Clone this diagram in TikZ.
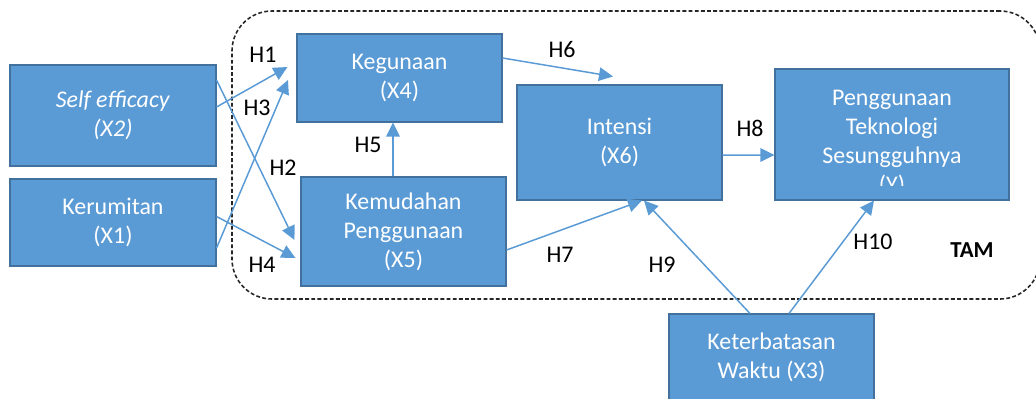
\documentclass[tikz,border=0pt]{standalone}
\usepackage{fontspec}
\setmainfont{Carlito}
\usepackage{xcolor}
\usetikzlibrary{arrows.meta, calc}

\definecolor{boxblue}{HTML}{5B9BD5}
\definecolor{boxedge}{HTML}{41719C}

\begin{document}
\begin{tikzpicture}[>={Triangle[length=2.8mm, width=2.7mm]},
  every node/.style={font=\fontsize{13.6}{16.5}\selectfont},
  var/.style={draw=boxedge, line width=0.6pt, fill=boxblue, text=white, align=center, minimum width=4.1cm},
  hyp/.style={->, draw=boxblue, line width=0.85pt},
  lbl/.style={text=black, inner sep=0pt}]
  \useasboundingbox (0,0) rectangle (20.72,-7.96);
  % TAM frame
  \node[draw=black!85, line width=0.9pt, dash pattern=on 2.2pt off 1.3pt, rounded corners=0.8cm, minimum width=16.16cm, minimum height=5.76cm] (tamframe) at (12.72,-3.10) {};
  \node[lbl, font=\fontsize{13}{16}\selectfont\bfseries] (tam) at (19.44,-5.00) {TAM};
  % variables
  \node[var, minimum width=4.12cm, minimum height=2.02cm] (selfeff) at (2.26,-2.31) {\textit{Self efficacy}\\\textit{(X2)}};
  \node[var, minimum width=4.12cm, minimum height=1.74cm] (kerumitan) at (2.26,-4.45) {Kerumitan\\(X1)};
  \node[var, minimum height=1.76cm] (kegunaan) at (7.99,-1.56) {Kegunaan\\(X4)};
  \node[var, minimum height=2.18cm] (kemudahan) at (8.07,-4.63) {Kemudahan\\Penggunaan\\(X5)};
  \node[var, minimum height=2.30cm] (intensi) at (12.39,-2.85) {Intensi\\(X6)};
  \node[var, minimum height=1.72cm] (waktu) at (15.43,-7.14) {Keterbatasan\\Waktu (X3)};
  \node[var, minimum width=4.68cm, minimum height=2.62cm] (pengg) at (17.84,-2.69) {};
  \begin{scope}
    \clip (pengg.north west) rectangle ($(pengg.south east)+(0,0.30)$);
    \node[text=white, align=center] (penggtxt) at ($(pengg.center)+(0,-0.16)$) {Penggunaan\\Teknologi\\Sesungguhnya\\(Y)};
  \end{scope}
  % hypotheses
  \draw[hyp] ($(selfeff.east)+(0,0.17)$) -- ($(kegunaan.west)+(-0.18,0.22)$);
  \draw[hyp] ($(selfeff.east)+(0,0.71)$) -- ($(kemudahan.west)+(-0.12,-0.17)$);
  \draw[hyp] ($(kerumitan.east)+(0,-0.51)$) -- ($(kegunaan.west)+(-0.17,-0.04)$);
  \draw[hyp] ($(kerumitan.east)+(0,0.12)$) -- ($(kemudahan.west)+(-0.10,-0.53)$);
  \draw[hyp] ($(kemudahan.north)+(-0.21,0)$) -- ($(kegunaan.south)+(-0.13,0)$);
  \draw[hyp] ($(kegunaan.east)+(0,0.40)$) -- ($(intensi.north)+(-0.13,0.16)$);
  \draw[hyp] ($(kemudahan.east)+(0,-0.37)$) -- ($(intensi.south)+(0.45,0)$);
  \draw[hyp] ($(intensi.east)+(0,-0.25)$) -- ($(pengg.west)+(0,-0.41)$);
  \draw[hyp] ($(waktu.north)+(-0.43,0)$) -- ($(intensi.south)+(0.49,0)$);
  \draw[hyp] ($(waktu.north)+(0.35,0)$) -- ($(pengg.south)+(-0.36,0)$);
  % labels
  \node[lbl] (h1) at (5.26,-1.10) {H1};
  \node[lbl] (h2) at (5.66,-3.36) {H2};
  \node[lbl] (h3) at (5.14,-2.16) {H3};
  \node[lbl] (h4) at (5.24,-5.30) {H4};
  \node[lbl] (h5) at (7.36,-2.90) {H5};
  \node[lbl] (h6) at (11.24,-1.00) {H6};
  \node[lbl] (h7) at (11.20,-5.10) {H7};
  \node[lbl] (h8) at (15.00,-2.56) {H8};
  \node[lbl] (h9) at (13.24,-5.30) {H9};
  \node[lbl] (h10) at (17.46,-4.84) {H10};
\end{tikzpicture}
\end{document}
